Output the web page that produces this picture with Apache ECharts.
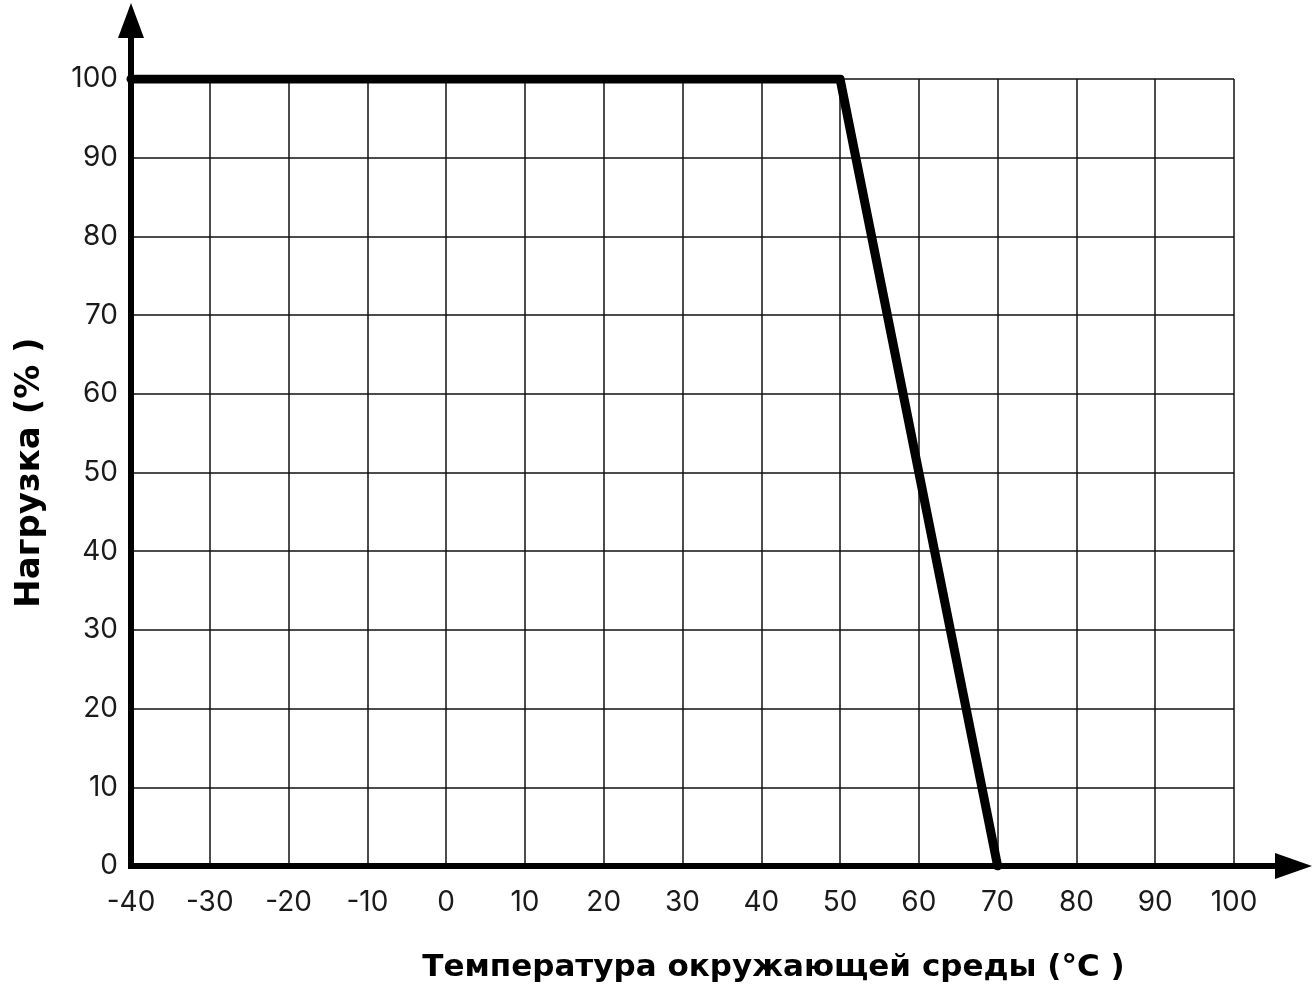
<!DOCTYPE html>
<html><head><meta charset="utf-8">
<script src="https://cdn.jsdelivr.net/npm/echarts@6/dist/echarts.min.js"></script>
<style>html,body{margin:0;padding:0;background:#fff}#c{width:1314px;height:986px}</style>
</head><body><div id="c"></div>
<script>
const temps = [-40, 50, 70];
const loads = [100, 100, 0];
const xTitle = 'Температура окружающей среды (°C )';
const yTitle = 'Нагрузка (% )';
const font = 'Inter, "Noto Sans", sans-serif';
const titleFont = '"DejaVu Sans", sans-serif';

const chart = echarts.init(document.getElementById('c'), null, {renderer: 'canvas'});
chart.setOption({
  animation: false,
  backgroundColor: '#fff',
  grid: {left: 131, right: 80, top: 79, bottom: 120, containLabel: false, outerBoundsMode: 'none'},
  xAxis: {
    type: 'value', min: -40, max: 100, interval: 10,
    axisLine: {show: false}, axisTick: {show: false},
    axisLabel: {color: '#1a1a1a', fontSize: 28, fontFamily: font, margin: 23},
    splitLine: {show: true, lineStyle: {color: '#111', width: 1.5}},
    name: xTitle, nameLocation: 'middle', nameGap: 86,
    nameTextStyle: {fontSize: 31, fontWeight: 'bold', color: '#000', fontFamily: titleFont, padding: [0,0,0,182]}
  },
  yAxis: {
    type: 'value', min: 0, max: 100, interval: 10,
    axisLine: {show: false}, axisTick: {show: false},
    axisLabel: {color: '#1a1a1a', fontSize: 28, fontFamily: font, margin: 13},
    splitLine: {show: true, lineStyle: {color: '#111', width: 1.5}},
    name: yTitle, nameLocation: 'middle', nameGap: 84, nameRotate: 90,
    nameTextStyle: {fontSize: 34, fontWeight: 'bold', color: '#000', fontFamily: titleFont}
  },
  series: [{
    type: 'line', data: temps.map((t, i) => [t, loads[i]]),
    symbol: 'none', lineStyle: {color: '#000', width: 9, cap: 'round', join: 'round'}, z: 5
  }]
});

function drawAxes() {
  const o = chart.convertToPixel({gridIndex: 0}, [-40, 0]);
  const e = chart.convertToPixel({gridIndex: 0}, [100, 100]);
  chart.setOption({graphic: [
    {type: 'line', z: 10, shape: {x1: o[0], y1: o[1], x2: o[0], y2: 30}, style: {stroke: '#000', lineWidth: 6}},
    {type: 'polygon', z: 10, shape: {points: [[o[0]-13, 38], [o[0]+13, 38], [o[0], 3]]}, style: {fill: '#000'}},
    {type: 'line', z: 10, shape: {x1: o[0]-3, y1: o[1], x2: e[0]+50, y2: o[1]}, style: {stroke: '#000', lineWidth: 6}},
    {type: 'polygon', z: 10, shape: {points: [[e[0]+41, o[1]-13], [e[0]+41, o[1]+13], [e[0]+78, o[1]]]}, style: {fill: '#000'}}
  ]});
}
drawAxes();
</script></body></html>
